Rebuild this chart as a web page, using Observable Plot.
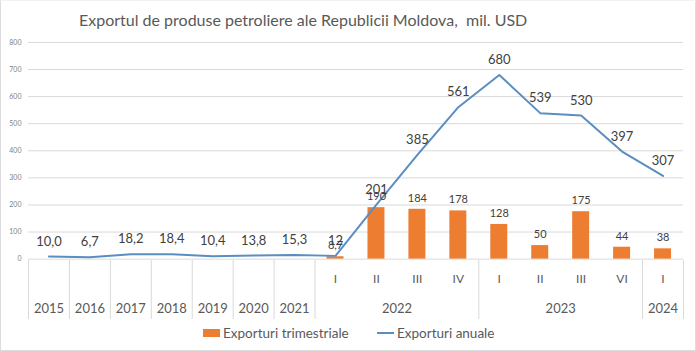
<!DOCTYPE html>
<html>
<head>
<meta charset="utf-8">
<script src="https://cdn.jsdelivr.net/npm/d3@7"></script>
<script src="https://cdn.jsdelivr.net/npm/@observablehq/plot@0.6"></script>
<style>
  html, body { margin: 0; padding: 0; background: #fff; }
  #wrap { position: relative; width: 696px; height: 351px; box-sizing: border-box; border: 1px solid #dcdcdc; border-top-color: #f2f2f2; overflow: hidden; font-family: Lato, "Open Sans", sans-serif; }
  #title { position: absolute; left: 78px; top: 9px; font-size: 16px; color: #595959; white-space: pre; }
  #main { position: absolute; left: -1px; top: -1px; }
  #axis { position: absolute; left: -1px; top: 258px; }
  #legend { position: absolute; left: 0; top: 323px; width: 696px; height: 20px; font-size: 13.5px; color: #595959; }
  .item { position: absolute; top: 0; display: flex; align-items: center; height: 18px; }
  .sw { display: inline-block; margin-right: 3px; }
</style>
</head>
<body>
<div id="wrap">
  <div id="title">Exportul de produse petroliere ale Republicii Moldova,  mil. USD</div>
  <div id="main"></div>
  <div id="axis"></div>
  <div id="legend">
    <div class="item" style="left:202px"><span class="sw" style="width:17px;height:8px;background:#ed7d31"></span>Exporturi trimestriale</div>
    <div class="item" style="left:376px"><span class="sw" style="width:17px;height:2px;background:#5b8ec0"></span>Exporturi anuale</div>
  </div>
</div>
<script>
// ---- data ----
const categories = ["2015","2016","2017","2018","2019","2020","2021","2022-I","2022-II","2022-III","2022-IV","2023-I","2023-II","2023-III","2023-VI","2024-I"];
const quarterLabels = ["","","","","","","","I","II","III","IV","I","II","III","VI","I"];
const annualValues = [10.0, 6.7, 18.2, 18.4, 10.4, 13.8, 15.3, 12, 201, 385, 561, 680, 539, 530, 397, 307];
const quarterlyValues = [null, null, null, null, null, null, null, 8.7, 190, 184, 178, 128, 50, 175, 44, 38];
const yearGroups = [
  {label: "2015", first: 0, count: 1}, {label: "2016", first: 1, count: 1},
  {label: "2017", first: 2, count: 1}, {label: "2018", first: 3, count: 1},
  {label: "2019", first: 4, count: 1}, {label: "2020", first: 5, count: 1},
  {label: "2021", first: 6, count: 1}, {label: "2022", first: 7, count: 4},
  {label: "2023", first: 11, count: 4}, {label: "2024", first: 15, count: 1}
];
const yTicks = [0, 100, 200, 300, 400, 500, 600, 700, 800];

// ---- layout ----
const W = 696, ML = 28, MR = 12;
const step = (W - ML - MR) / categories.length;
const fmtAnnual = (v, i) => i < 7 ? v.toFixed(1).replace(".", ",") : String(v);
const fmtQuarter = v => Number.isInteger(v) ? String(v) : v.toFixed(1).replace(".", ",");

const annual = categories.map((c, i) => ({cat: c, v: annualValues[i], label: fmtAnnual(annualValues[i], i)}));
const quarterly = categories.map((c, i) => ({cat: c, v: quarterlyValues[i]})).filter(d => d.v != null)
  .map(d => ({...d, label: fmtQuarter(d.v)}));

const xScale = {type: "band", domain: categories, padding: 0, axis: null};

const main = Plot.plot({
  width: W, height: 260,
  marginLeft: ML, marginRight: MR, marginTop: 42, marginBottom: 1,
  style: {fontFamily: "Lato, 'Open Sans', sans-serif", background: "transparent", overflow: "visible"},
  x: xScale,
  y: {domain: [0, 800], ticks: yTicks, label: null, tickSize: 0, tickPadding: 8, tickFormat: d => d},
  marks: [
    Plot.gridY(yTicks, {stroke: "#d9d9d9", strokeOpacity: 1, strokeWidth: 1}),
    Plot.axisY(yTicks, {tickSize: 0, tickPadding: 7, fontSize: 7, fill: "#7f7f7f", label: null}),
    Plot.barY(quarterly, {x: "cat", y: "v", fill: "#ed7d31", insetLeft: 12, insetRight: 12}),
    Plot.line(annual, {x: "cat", y: "v", stroke: "#5b8ec0", strokeWidth: 2}),
    Plot.text(quarterly, {x: "cat", y: "v", text: "label", dy: -11, fontSize: 11, fill: "#404040"}),
    Plot.text(annual, {x: "cat", y: "v", text: "label", dy: -15, fontSize: 13, fill: "#404040"})
  ]
});
document.getElementById("main").appendChild(main);

const sepIdx = [0,1,2,3,4,5,6,7,11,15];
const seps = sepIdx.map(i => ({cat: categories[i], side: -1})).concat([{cat: categories[15], side: 1}]);
const qLabels = categories.map((c, i) => ({cat: c, label: quarterLabels[i]})).filter(d => d.label);

const axis = Plot.plot({
  width: W, height: 60,
  marginLeft: ML, marginRight: MR, marginTop: 1, marginBottom: 0,
  style: {fontFamily: "Lato, 'Open Sans', sans-serif", background: "transparent", overflow: "visible"},
  x: xScale,
  marks: [
    ...seps.map(s => Plot.ruleX([s], {x: "cat", dx: s.side * step / 2, stroke: "#d9d9d9"})),
    Plot.text(qLabels, {x: "cat", text: "label", frameAnchor: "top", lineAnchor: "middle", dy: 19, fontSize: 12, fill: "#595959"}),
    ...yearGroups.map(g => Plot.text([g], {x: () => categories[g.first], text: "label", frameAnchor: "top", lineAnchor: "middle", dx: (g.count - 1) * step / 2, dy: 48, fontSize: 13, fill: "#595959"}))
  ]
});
document.getElementById("axis").appendChild(axis);
</script>
</body>
</html>
